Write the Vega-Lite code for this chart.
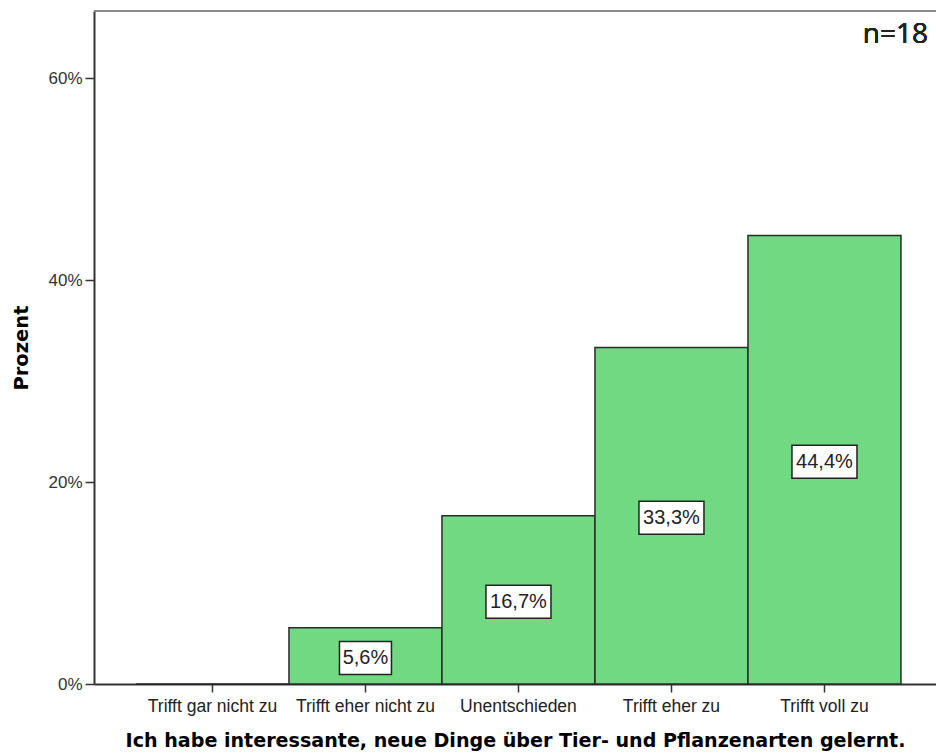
{
  "$schema": "https://vega.github.io/schema/vega-lite/v6.json",
  "autosize": {"type": "none"},
  "padding": {"left": 94, "top": 11, "right": 0, "bottom": 71},
  "width": 842,
  "height": 673,
  "background": "white",
  "config": {
    "view": {"stroke": null},
    "locale": {"number": {"decimal": ",", "thousands": ".", "grouping": [3], "currency": ["", " €"]}}
  },
  "data": {"values": [
    {"Antwort": "Trifft gar nicht zu", "Prozent": 0},
    {"Antwort": "Trifft eher nicht zu", "Prozent": 0.0556},
    {"Antwort": "Unentschieden", "Prozent": 0.1667},
    {"Antwort": "Trifft eher zu", "Prozent": 0.3333},
    {"Antwort": "Trifft voll zu", "Prozent": 0.4444}
  ]},
  "resolve": {"scale": {"y": "independent"}},
  "layer": [
    {
      "mark": {"type": "rule", "color": "#8a8a8a", "strokeWidth": 2},
      "encoding": {
        "y": {"datum": 0.6667, "type": "quantitative", "scale": {"domain": [0, 0.6667]}, "axis": null}
      }
    },
    {
      "mark": {"type": "bar", "color": "#70d982", "stroke": "#2a2a2a", "strokeWidth": 1.5, "opacity": 1},
      "encoding": {
        "x": {
          "field": "Antwort", "type": "nominal",
          "scale": {"domain": ["Trifft gar nicht zu", "Trifft eher nicht zu", "Unentschieden", "Trifft eher zu", "Trifft voll zu"], "paddingInner": 0, "paddingOuter": 0.2516, "align": 0.545},
          "axis": {
            "title": "Ich habe interessante, neue Dinge über Tier- und Pflanzenarten gelernt.",
            "labelAngle": 0,
            "labelFont": "Liberation Sans", "labelFontSize": 17.5, "labelColor": "#222",
            "labelPadding": 5,
            "tickSize": 8, "tickColor": "#333", "tickWidth": 1.5,
            "domainColor": "#333", "domainWidth": 2,
            "titleFont": "DejaVu Sans", "titleFontSize": 19.1, "titleFontWeight": "bold", "titleColor": "#000",
            "titlePadding": 17
          }
        },
        "y": {
          "field": "Prozent", "type": "quantitative",
          "scale": {"domain": [0, 0.6667], "nice": false},
          "axis": {
            "title": "Prozent",
            "values": [0, 0.2, 0.4, 0.6], "format": ".0%",
            "grid": false,
            "labelFont": "Liberation Sans", "labelFontSize": 17, "labelColor": "#333",
            "labelPadding": 3,
            "tickSize": 9, "tickColor": "#333", "tickWidth": 1.5,
            "domainColor": "#333", "domainWidth": 2,
            "titleFont": "DejaVu Sans", "titleFontSize": 19.5, "titleFontWeight": "bold", "titleColor": "#000",
            "titlePadding": 16
          }
        }
      }
    },
    {
      "transform": [{"filter": "datum.Prozent > 0"}],
      "mark": {"type": "point", "filled": true, "fill": "white", "stroke": "#222", "strokeWidth": 1.5, "opacity": 1, "size": 4225, "yOffset": 2},
      "encoding": {
        "x": {"field": "Antwort", "type": "nominal"},
        "y": {"field": "Prozent", "type": "quantitative", "scale": {"domain": [0, 1.3334], "nice": false}, "axis": null},
        "shape": {
          "condition": {"test": "datum.Prozent < 0.1", "value": "M-0.8,-0.508L0.8,-0.508L0.8,0.508L-0.8,0.508Z"},
          "value": "M-1,-0.508L1,-0.508L1,0.508L-1,0.508Z"
        }
      }
    },
    {
      "transform": [{"filter": "datum.Prozent > 0"}],
      "mark": {"type": "text", "font": "Liberation Sans", "fontSize": 20, "color": "#222", "baseline": "middle", "align": "center", "yOffset": 2},
      "encoding": {
        "x": {"field": "Antwort", "type": "nominal"},
        "y": {"field": "Prozent", "type": "quantitative", "scale": {"domain": [0, 1.3334], "nice": false}, "axis": null},
        "text": {"field": "Prozent", "type": "quantitative", "format": ".1%"}
      }
    },
    {
      "mark": {"type": "text", "text": "n=18", "font": "Open Sans", "fontSize": 28, "color": "#222", "align": "right", "baseline": "middle", "dx": 27},
      "encoding": {
        "x": {"datum": "Trifft voll zu", "bandPosition": 1},
        "y": {"datum": 0.643, "type": "quantitative", "scale": {"domain": [0, 0.6667], "nice": false}, "axis": null}
      }
    }
  ]
}
